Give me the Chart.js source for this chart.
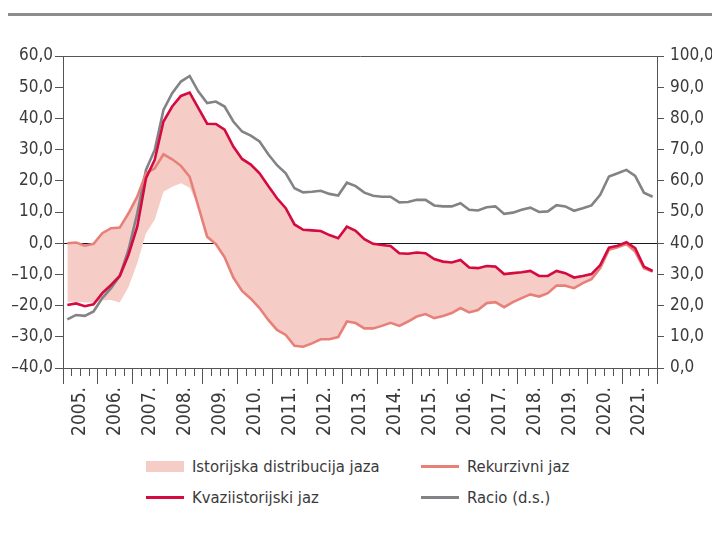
<!DOCTYPE html>
<html>
<head>
<meta charset="utf-8">
<script src="https://cdn.jsdelivr.net/npm/chart.js@4.4.0/dist/chart.umd.min.js"></script>
<style>
  body { margin: 0; background: #fff; width: 712px; height: 540px; position: relative; overflow: hidden;
         font-family: "Liberation Sans Narrow", "DejaVu Sans Condensed", sans-serif; }
  #rule { position: absolute; left: 8px; top: 13px; width: 704px; height: 3px; background: #8c8c8c; }
  #chart { position: absolute; left: 0; top: 0; }
  .item { position: absolute; height: 24px; display: flex; align-items: center; font-size: 16.5px; color: #3a3a3a; white-space: nowrap; }
  .sw { width: 38px; margin-right: 8px; }
</style>
</head>
<body>
<div id="rule"></div>
<canvas id="chart" width="712" height="450"></canvas>
<div id="legend"></div>
<script>
// quarterly data, 2005 Q1 - 2021 Q4
const years = ['2005.', '2006.', '2007.', '2008.', '2009.', '2010.', '2011.', '2012.', '2013.',
               '2014.', '2015.', '2016.', '2017.', '2018.', '2019.', '2020.', '2021.'];

const kvaziJaz = [-19.8, -19.3, -20.2, -19.6, -16.0, -13.4, -10.5, -3.7, 5.3, 20.8,
  26.7, 39.0, 43.8, 47.2, 48.3, 43.3, 38.3, 38.2, 36.4, 31.0,
  27.0, 25.2, 22.4, 18.3, 14.4, 11.2, 6.0, 4.3, 4.1, 3.9,
  2.6, 1.6, 5.3, 4.0, 1.3, -0.2, -0.6, -0.9, -3.2, -3.4,
  -3.0, -3.2, -5.1, -5.9, -6.2, -5.4, -7.8, -8.0, -7.3, -7.5,
  -9.9, -9.6, -9.3, -8.9, -10.5, -10.5, -8.9, -9.6, -11.0, -10.5,
  -9.9, -7.0, -1.4, -0.8, 0.3, -1.6, -7.5, -8.9];

const rekurzivniJaz = [0.0, 0.2, -0.8, -0.2, 3.2, 4.8, 5.0, 9.6, 14.9, 22.4,
  24.0, 28.5, 26.9, 24.8, 21.3, 11.7, 2.1, -0.3, -4.5, -11.0,
  -15.3, -17.8, -20.8, -24.6, -27.8, -29.4, -32.9, -33.2, -32.1, -30.8,
  -30.8, -30.1, -25.1, -25.6, -27.3, -27.3, -26.5, -25.5, -26.5, -25.1,
  -23.5, -22.7, -24.0, -23.3, -22.4, -20.8, -22.2, -21.4, -19.2, -18.9,
  -20.5, -18.9, -17.6, -16.4, -17.1, -16.0, -13.6, -13.6, -14.4, -12.8,
  -11.5, -8.0, -2.1, -1.3, -0.3, -2.7, -8.0, -9.1];

const racio = [15.6, 17.0, 16.7, 18.1, 22.4, 25.6, 29.5, 37.9, 49.6, 63.5,
  69.9, 82.7, 88.1, 91.8, 93.6, 88.6, 84.9, 85.4, 83.8, 79.0,
  75.8, 74.5, 72.6, 68.5, 65.0, 62.4, 57.6, 56.3, 56.5, 56.8,
  55.8, 55.3, 59.4, 58.3, 56.2, 55.2, 54.9, 54.9, 53.1, 53.2,
  53.9, 53.9, 52.1, 51.8, 51.8, 52.8, 50.7, 50.5, 51.5, 51.8,
  49.4, 49.8, 50.7, 51.4, 50.0, 50.2, 52.2, 51.8, 50.4, 51.2,
  52.1, 55.5, 61.4, 62.4, 63.5, 61.6, 56.2, 54.9];

// historical distribution band (upper / lower edge)
const histUpper = [0.0, 0.2, -0.8, -0.2, 3.2, 4.8, 5.0, 9.6, 14.9, 22.4,
  26.7, 39.0, 43.8, 47.2, 48.3, 43.3, 38.3, 38.2, 36.4, 31.0,
  27.0, 25.2, 22.4, 18.3, 14.4, 11.2, 6.0, 4.3, 4.1, 3.9,
  2.6, 1.6, 5.3, 4.0, 1.3, -0.2, -0.6, -0.9, -3.2, -3.4,
  -3.0, -3.2, -5.1, -5.9, -6.2, -5.4, -7.8, -8.0, -7.3, -7.5,
  -9.9, -9.6, -9.3, -8.9, -10.5, -10.5, -8.9, -9.6, -11.0, -10.5,
  -9.9, -7.0, -1.4, -0.8, 0.3, -1.6, -7.5, -8.9];

const histLower = [-18.8, -18.8, -19.0, -19.0, -18.3, -18.2, -19.0, -14.0, -6.4, 3.2,
  7.5, 16.5, 18.1, 19.2, 17.8, 11.7, 2.1, -0.3, -4.5, -11.0,
  -15.3, -17.8, -20.8, -24.6, -27.8, -29.4, -32.9, -33.2, -32.1, -30.8,
  -30.8, -30.1, -25.1, -25.6, -27.3, -27.3, -26.5, -25.5, -26.5, -25.1,
  -23.5, -22.7, -24.0, -23.3, -22.4, -20.8, -22.2, -21.4, -19.2, -18.9,
  -20.5, -18.9, -17.6, -16.4, -17.1, -16.0, -13.6, -13.6, -14.4, -12.8,
  -11.5, -8.0, -2.1, -1.3, -0.3, -2.7, -8.0, -9.1];

const leftTicks = { min: -40, max: 60, step: 10 };
const rightTicks = { min: 0, max: 100, step: 10 };

// each quarter sits in the middle of its slot on the x axis
const pts = arr => arr.map((v, i) => ({ x: i + 0.5, y: v }));
const fmt = v => (v < 0 ? '\u2013' : '') + Math.abs(v).toFixed(1).replace('.', ',');

Chart.defaults.font.family = '"Liberation Sans Narrow", "DejaVu Sans Condensed", sans-serif';
Chart.defaults.font.size = 17;
Chart.defaults.color = '#3a3a3a';

const axisColor = '#555';

const chart = new Chart(document.getElementById('chart'), {
  type: 'line',
  data: {
    datasets: [
      { label: 'Kvaziistorijski jaz', data: pts(kvaziJaz), borderColor: '#d40a40', borderWidth: 2.6, yAxisID: 'y' },
      { label: 'Rekurzivni jaz', data: pts(rekurzivniJaz), borderColor: '#e8807a', borderWidth: 2.6, yAxisID: 'y' },
      { label: 'Racio (d.s.)', data: pts(racio), borderColor: '#838387', borderWidth: 2.6, yAxisID: 'y1' },
      { label: 'Istorijska distribucija jaza', data: pts(histUpper), borderWidth: 0, backgroundColor: '#f6cdc6',
        fill: '+1', yAxisID: 'y' },
      { label: '', data: pts(histLower), borderWidth: 0, fill: false, yAxisID: 'y' }
    ]
  },
  options: {
    responsive: false,
    animation: false,
    layout: { padding: { top: 56, left: 0, right: 0, bottom: 0 } },
    elements: { point: { radius: 0 }, line: { tension: 0 } },
    plugins: { legend: { display: false }, tooltip: { enabled: false } },
    scales: {
      x: {
        type: 'linear',
        min: 0,
        max: kvaziJaz.length,
        afterFit: s => { s.height = 82; },
        border: { display: true, color: axisColor },
        grid: {
          drawOnChartArea: false,
          tickLength: 16,
          tickColor: axisColor,
          // short ticks for quarters, long ones between years
          tickBorderDash: ctx => (ctx.tick && ctx.tick.value % 4 === 0 ? [] : [7, 40])
        },
        ticks: {
          stepSize: 1,
          autoSkip: false,
          maxTicksLimit: 200,
          minRotation: 90,
          maxRotation: 90,
          padding: 3,
          font: { size: 19 },
          callback: v => (v % 4 === 2 ? years[(v - 2) / 4] : '')
        }
      },
      y: {
        position: 'left',
        min: leftTicks.min,
        max: leftTicks.max,
        afterFit: s => { s.width = 63; },
        border: { display: true, color: axisColor },
        grid: {
          tickLength: 8,
          tickColor: axisColor,
          color: ctx => (ctx.tick.value === 0 ? '#1a1a1a' : ctx.tick.value === leftTicks.max ? axisColor : 'transparent')
        },
        ticks: { stepSize: leftTicks.step, padding: 2, callback: v => fmt(v) }
      },
      y1: {
        position: 'right',
        min: rightTicks.min,
        max: rightTicks.max,
        afterFit: s => { s.width = 55; },
        border: { display: true, color: axisColor },
        grid: { drawOnChartArea: false, tickLength: 7, tickColor: axisColor },
        ticks: { stepSize: rightTicks.step, padding: 6, callback: v => fmt(v) }
      }
    }
  }
});

// html legend, 2 x 2 grid, built from the datasets
const legendSlots = [
  { ds: 3, left: 146, top: 454, box: true },
  { ds: 1, left: 421, top: 454 },
  { ds: 0, left: 146, top: 485 },
  { ds: 2, left: 421, top: 485 }
];
const legend = document.getElementById('legend');
legendSlots.forEach(s => {
  const d = chart.data.datasets[s.ds];
  const item = document.createElement('div');
  item.className = 'item';
  item.style.left = s.left + 'px';
  item.style.top = s.top + 'px';
  const sw = document.createElement('span');
  sw.className = 'sw';
  sw.style.height = s.box ? '11px' : '3px';
  sw.style.background = s.box ? d.backgroundColor : d.borderColor;
  item.appendChild(sw);
  item.appendChild(document.createTextNode(d.label));
  legend.appendChild(item);
});
</script>
</body>
</html>
